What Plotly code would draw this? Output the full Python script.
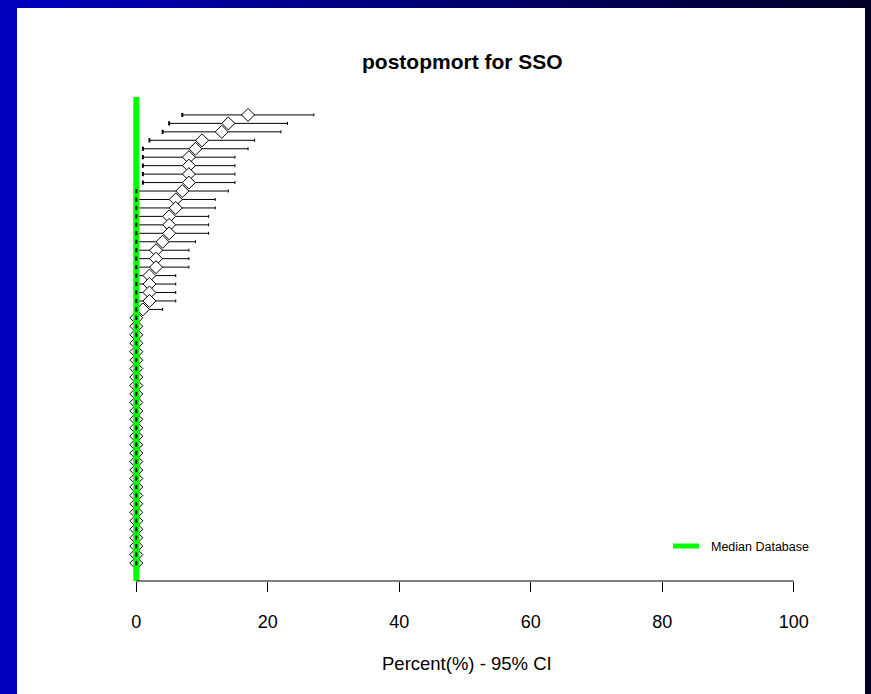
import plotly.graph_objects as go

# ---- data ----
title_text = "postopmort for SSO"
x_title = "Percent(%) - 95% CI"
legend_label = "Median Database"
median_value = 0
tick_values = [0, 20, 40, 60, 80, 100]
tick_labels = ["0", "20", "40", "60", "80", "100"]

rates = [17, 14, 13, 10, 9, 8, 8, 8, 8, 7, 6, 6, 5, 5, 5, 4, 3, 3, 3, 2, 2, 2, 2, 1,
         0, 0, 0, 0, 0, 0, 0, 0, 0, 0, 0, 0, 0, 0, 0, 0, 0, 0, 0, 0, 0, 0, 0, 0, 0, 0,
         0, 0, 0, 0]
ci_lower = [7, 5, 4, 2, 1, 1, 1, 1, 1, 0, 0, 0, 0, 0, 0, 0, 0, 0, 0, 0, 0, 0, 0, 0,
            0, 0, 0, 0, 0, 0, 0, 0, 0, 0, 0, 0, 0, 0, 0, 0, 0, 0, 0, 0, 0, 0, 0, 0, 0, 0,
            0, 0, 0, 0]
ci_upper = [27, 23, 22, 18, 17, 15, 15, 15, 15, 14, 12, 12, 11, 11, 11, 9, 8, 8, 8, 6, 6, 6, 6, 4,
            0, 0, 0, 0, 0, 0, 0, 0, 0, 0, 0, 0, 0, 0, 0, 0, 0, 0, 0, 0, 0, 0, 0, 0, 0, 0,
            0, 0, 0, 0]

rows = list(range(1, len(rates) + 1))
n = len(rows)

FONT = "Arial, Liberation Sans, Helvetica, sans-serif"
W, H = 871, 694
ML, MR, MT, MB = 110, 51, 97, 113
PW, PH = W - ML - MR, H - MT - MB


def px_to_paper_x(px):
    return (px - ML) / PW


def px_to_paper_y(py):
    return (H - MB - py) / PH


fig = go.Figure()

# error bars (drawn first, under diamonds)
fig.add_trace(go.Scatter(
    x=rates, y=rows, mode="markers",
    marker=dict(size=1, color="rgba(0,0,0,0)"),
    error_x=dict(type="data", symmetric=False,
                 array=[u - r for u, r in zip(ci_upper, rates)],
                 arrayminus=[r - l for r, l in zip(rates, ci_lower)],
                 color="black", thickness=1, width=1.5),
    showlegend=False, hoverinfo="skip"))

# diamonds
fig.add_trace(go.Scatter(
    x=rates, y=rows, mode="markers",
    marker=dict(symbol="diamond", size=10, color="white",
                line=dict(color="black", width=1)),
    showlegend=False))

# median line
fig.add_trace(go.Scatter(
    x=[median_value, median_value], y=[-1.12 - 1, n + 2.12 + 1], mode="lines",
    line=dict(color="#00FF00", width=6), showlegend=False, hoverinfo="skip"))

# CI end caps at lower bound (visible on top of the green line)
fig.add_trace(go.Scatter(
    x=ci_lower, y=rows, mode="markers",
    marker=dict(symbol="line-ns", size=3, line=dict(color="black", width=2)),
    showlegend=False, hoverinfo="skip"))

shapes = []
# gradient background border
steps = 80
for i in range(steps):
    t = i / (steps - 1)
    b = int(round(192 + (38 - 192) * t))
    x0 = W * i / steps
    x1 = W * (i + 1) / steps + 1
    shapes.append(dict(type="rect", xref="paper", yref="paper",
                       x0=px_to_paper_x(x0), x1=px_to_paper_x(x1),
                       y0=px_to_paper_y(H + 2), y1=px_to_paper_y(-2),
                       fillcolor=f"rgb(0,0,{b})", line=dict(width=0), layer="below"))
# white panel
shapes.append(dict(type="rect", xref="paper", yref="paper",
                   x0=px_to_paper_x(17), x1=px_to_paper_x(865),
                   y0=px_to_paper_y(H + 2), y1=px_to_paper_y(8),
                   fillcolor="white", line=dict(width=0), layer="below"))
# x axis line from first to last tick
shapes.append(dict(type="line", xref="x", yref="paper",
                   x0=tick_values[0], x1=tick_values[-1], y0=0, y1=0,
                   line=dict(color="black", width=1), layer="above"))
# legend swatch
shapes.append(dict(type="line", xref="paper", yref="paper",
                   x0=px_to_paper_x(673), x1=px_to_paper_x(699),
                   y0=px_to_paper_y(546), y1=px_to_paper_y(546),
                   line=dict(color="#00FF00", width=5), layer="above"))

annotations = [
    dict(text=x_title, xref="paper", yref="paper",
         x=px_to_paper_x(467), y=px_to_paper_y(663),
         xanchor="center", yanchor="middle", showarrow=False,
         font=dict(family=FONT, size=18.5, color="black")),
    dict(text=legend_label, xref="paper", yref="paper",
         x=px_to_paper_x(709), y=px_to_paper_y(547),
         xanchor="left", yanchor="middle", showarrow=False,
         font=dict(family=FONT, size=12.5, color="black")),
    dict(text="<b>" + title_text + "</b>", xref="paper", yref="paper",
         x=px_to_paper_x(462), y=px_to_paper_y(62),
         xanchor="center", yanchor="middle", showarrow=False,
         font=dict(family=FONT, size=21, color="black")),
]

fig.update_layout(
    width=W, height=H, autosize=False,
    margin=dict(l=ML, r=MR, t=MT, b=MB, pad=0),
    paper_bgcolor="white", plot_bgcolor="rgba(0,0,0,0)",
    shapes=shapes, annotations=annotations,
    xaxis=dict(range=[-4, 104], tickvals=tick_values, ticktext=tick_labels,
               ticks="outside", ticklen=10, tickwidth=1, tickcolor="black",
               showgrid=False, zeroline=False, showline=False,
               ticklabelstandoff=14,
               tickfont=dict(family=FONT, size=18, color="black")),
    yaxis=dict(range=[n + 2.12, 1 - 2.12], showticklabels=False, ticks="",
               showgrid=False, zeroline=False, showline=False),
    showlegend=False,
)

fig.write_html("out.html")
